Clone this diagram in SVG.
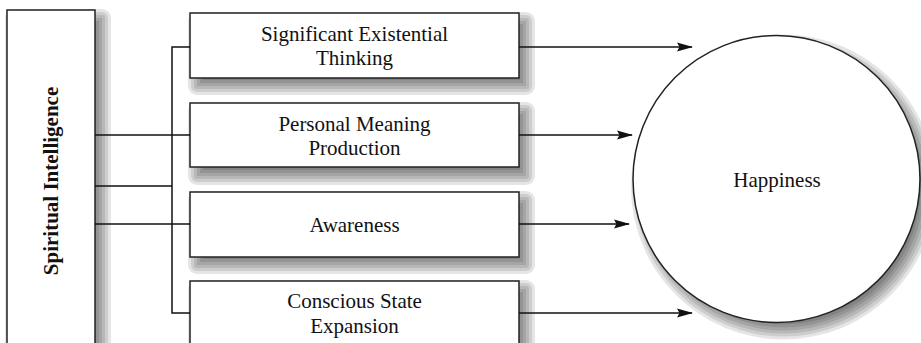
<svg xmlns="http://www.w3.org/2000/svg" width="921" height="343" viewBox="0 0 921 343">
<style>
.box{fill:#fff;stroke:#222;stroke-width:1.5}
.lbl{font-family:"Liberation Serif","Times New Roman",serif;font-size:21px;fill:#111;text-anchor:middle}
.conn{stroke:#111;stroke-width:1.5;fill:none}
.shd *{fill:#000;fill-opacity:0.1;stroke:none}
</style>
<defs>
<g id="bsh" class="shd">
<rect x="-2" y="-1" width="347" height="83" rx="9"/>
<rect x="1" y="2" width="341" height="77" rx="6"/>
<rect x="4" y="5" width="335" height="71" rx="3"/>
<rect x="7" y="8" width="329" height="65"/>
<rect x="10" y="11" width="323" height="59"/>
<rect x="13" y="14" width="317" height="53"/>
<rect x="16" y="17" width="311" height="47"/>
</g>
<marker id="arr" viewBox="0 0 16 10" refX="15" refY="5" markerWidth="16" markerHeight="10" markerUnits="userSpaceOnUse" orient="auto">
<path d="M0,0.5 L16,5 L0,9.5 L2.5,5 Z" fill="#111"/>
</marker>
</defs>
<g id="spiritual-intelligence">
<g class="shd">
<rect x="5" y="9" width="106" height="363" rx="9"/>
<rect x="8" y="12" width="100" height="357" rx="6"/>
<rect x="11" y="15" width="94" height="351" rx="3"/>
<rect x="14" y="18" width="88" height="345"/>
<rect x="17" y="21" width="82" height="339"/>
<rect x="20" y="24" width="76" height="333"/>
<rect x="23" y="27" width="70" height="327"/>
</g>
<rect class="box" x="7" y="10" width="88" height="345"/>
<text class="lbl" font-weight="bold" transform="translate(58,181) rotate(-90)">Spiritual Intelligence</text>
</g>
<g id="significant-existential-thinking">
<use href="#bsh" x="190" y="13"/>
<rect class="box" x="190" y="13" width="329" height="65"/>
<text class="lbl" x="354.5" y="40.5">Significant Existential</text>
<text class="lbl" x="354.5" y="64.5">Thinking</text>
</g>
<g id="personal-meaning-production">
<use href="#bsh" x="190" y="103"/>
<rect class="box" x="190" y="103" width="329" height="64"/>
<text class="lbl" x="354.5" y="130.5">Personal Meaning</text>
<text class="lbl" x="354.5" y="154.5">Production</text>
</g>
<g id="awareness">
<use href="#bsh" x="190" y="192"/>
<rect class="box" x="190" y="192" width="329" height="65"/>
<text class="lbl" x="354.5" y="231.5">Awareness</text>
</g>
<g id="conscious-state-expansion">
<use href="#bsh" x="190" y="281"/>
<rect class="box" x="190" y="281" width="329" height="65"/>
<text class="lbl" x="354.5" y="308">Conscious State</text>
<text class="lbl" x="354.5" y="333">Expansion</text>
</g>
<g id="happiness">
<g class="shd">
<circle cx="783.5" cy="187" r="152.5"/>
<circle cx="783.5" cy="187" r="149.5"/>
<circle cx="783.5" cy="187" r="146.5"/>
<circle cx="783.5" cy="187" r="143.5"/>
<circle cx="783.5" cy="187" r="140.5"/>
<circle cx="783.5" cy="187" r="137.5"/>
<circle cx="783.5" cy="187" r="134.5"/>
</g>
<circle class="box" cx="776.5" cy="179" r="143.5"/>
<text class="lbl" x="777" y="186.5">Happiness</text>
</g>
<g id="connectors">
<path class="conn" d="M95,135 H190"/>
<path class="conn" d="M95,186 H172"/>
<path class="conn" d="M95,224 H190"/>
<path class="conn" d="M190,47 H172 V313 H190"/>
<path class="conn" d="M519,47 H692" marker-end="url(#arr)"/>
<path class="conn" d="M519,135 H632" marker-end="url(#arr)"/>
<path class="conn" d="M519,224 H629" marker-end="url(#arr)"/>
<path class="conn" d="M519,313 H692" marker-end="url(#arr)"/>
</g>
</svg>
